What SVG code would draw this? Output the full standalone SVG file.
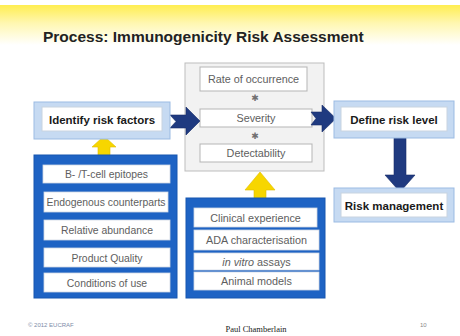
<svg xmlns="http://www.w3.org/2000/svg" width="460" height="336" viewBox="0 0 460 336">
  <defs>
    <linearGradient id="band" x1="0" y1="0" x2="0" y2="1">
      <stop offset="0" stop-color="#FFEE50"/>
      <stop offset="0.45" stop-color="#FFF7B0"/>
      <stop offset="1" stop-color="#FFFFFF"/>
    </linearGradient>
    <style>
      .frame { fill: #C6DAF2; stroke: #9BBBE3; stroke-width: 1; }
      .inner { fill: #FFFFFF; stroke: #C8D3E0; stroke-width: 1; }
      .bold { font-family: "Liberation Sans", Arial, sans-serif; font-weight: bold; font-size: 11.5px; fill: #1A1A1A; text-anchor: middle; }
      .panel { fill: #1E63C4; stroke: #1656B0; stroke-width: 1; }
      .item { fill: #FFFFFF; stroke: #D0D8E4; stroke-width: 0.8; }
      .lbl { font-family: "Liberation Sans", Arial, sans-serif; font-size: 10.4px; fill: #5E5E5E; text-anchor: middle; }
      .mid { font-family: "Liberation Sans", Arial, sans-serif; font-size: 10.8px; fill: #5E5E5E; text-anchor: middle; }
      .gbox { fill: #FFFFFF; stroke: #B5B5B5; stroke-width: 1; }
      .star { font-family: "DejaVu Sans", sans-serif; font-size: 9px; fill: #707070; text-anchor: middle; }
      .navy { fill: #1F3A80; stroke: #172E68; stroke-width: 0.6; }
      .yellow { fill: #F7D600; stroke: #E0BD00; stroke-width: 0.6; }
    </style>
  </defs>

  <!-- page background and header band -->
  <rect x="0" y="0" width="460" height="336" fill="#FFFFFF"/>
  <rect x="0" y="5" width="460" height="40" fill="url(#band)"/>
  <text x="43" y="42" font-family="Liberation Sans, Arial, sans-serif" font-weight="bold" font-size="15.5px" fill="#222222">Process: Immunogenicity Risk Assessment</text>

  <!-- central assessment box -->
  <g id="assessment">
    <rect x="185" y="63" width="139" height="108" fill="#F2F2F2" stroke="#BDBDBD" stroke-width="1"/>
    <rect class="gbox" x="200" y="67" width="107" height="24"/>
    <text class="mid" x="253.5" y="83">Rate of occurrence</text>
    <text class="star" x="255" y="101">✱</text>
    <rect class="gbox" x="200" y="109" width="112" height="18"/>
    <text class="mid" x="256" y="122" font-size="11.3px">Severity</text>
    <text class="star" x="255" y="139">✱</text>
    <rect class="gbox" x="200" y="144" width="112" height="18"/>
    <text class="mid" x="256" y="157">Detectability</text>
  </g>

  <!-- connectors -->
  <g id="connectors">
    <!-- risk factors to severity -->
    <path class="navy" d="M170,115 L186,115 L186,107 L200,121 L186,135 L186,128 L170,128 L176,121.5 Z"/>
    <!-- severity to risk level -->
    <path class="navy" d="M311,112 L322,112 L322,105 L336,118.5 L322,132 L322,125 L311,125 L316,118.5 Z"/>
    <!-- risk level to risk management -->
    <path class="navy" d="M394,138 L406,138 L406,175 L415,175 L400,192 L385,175 L394,175 Z"/>
    <!-- factor list to risk factors -->
    <path class="yellow" d="M98,160 L98,147 L92,147 L104,136 L116,147 L110,147 L110,160 Z"/>
    <!-- evidence list to assessment -->
    <path class="yellow" d="M254,205 L254,190 L245,190 L260,172 L275,190 L266,190 L266,205 Z"/>
  </g>

  <!-- identify risk factors -->
  <g id="identify">
    <rect class="frame" x="34" y="102" width="136" height="37"/>
    <rect class="inner" x="42" y="107" width="120" height="24"/>
    <text class="bold" x="102" y="123.5">Identify risk factors</text>
  </g>

  <!-- define risk level -->
  <g id="define">
    <rect class="frame" x="334" y="101" width="120" height="37"/>
    <rect class="inner" x="341" y="107" width="106" height="24"/>
    <text class="bold" x="394" y="123.5">Define risk level</text>
  </g>

  <!-- risk management -->
  <g id="management">
    <rect class="frame" x="334" y="188" width="120" height="34"/>
    <rect class="inner" x="341" y="193" width="106" height="24"/>
    <text class="bold" x="394" y="209.5">Risk management</text>
  </g>

  <!-- risk factor list -->
  <g id="factors">
    <rect class="panel" x="34" y="155" width="143" height="143"/>
    <rect class="item" x="43" y="165" width="127" height="18"/>
    <text class="lbl" x="106.5" y="178">B- /T-cell epitopes</text>
    <rect class="item" x="44" y="192" width="124" height="20"/>
    <text class="lbl" x="106" y="206">Endogenous counterparts</text>
    <rect class="item" x="44" y="220" width="126" height="20"/>
    <text class="lbl" x="107" y="234">Relative abundance</text>
    <rect class="item" x="44" y="248" width="126" height="19"/>
    <text class="lbl" x="107" y="261.5">Product Quality</text>
    <rect class="item" x="44" y="273" width="126" height="19"/>
    <text class="lbl" x="107" y="286.5">Conditions of use</text>
  </g>

  <!-- evidence list -->
  <g id="evidence">
    <rect class="panel" x="186" y="198" width="139" height="100"/>
    <rect class="item" x="194" y="208" width="123" height="19"/>
    <text class="mid" x="255.5" y="221.5">Clinical experience</text>
    <rect class="item" x="194" y="230" width="125" height="20"/>
    <text class="mid" x="256.5" y="244">ADA characterisation</text>
    <rect class="item" x="194" y="253" width="125" height="17"/>
    <text class="mid" x="256.5" y="265.5"><tspan font-style="italic">in vitro</tspan> assays</text>
    <rect class="item" x="194" y="272" width="125" height="18"/>
    <text class="mid" x="256.5" y="285">Animal models</text>
  </g>

  <!-- footer -->
  <text x="28" y="327" font-family="Liberation Sans, Arial, sans-serif" font-size="6px" fill="#7D8BA8">© 2012 EUCRAF</text>
  <text x="256" y="332" font-family="Liberation Serif, Times New Roman, serif" font-size="8.5px" fill="#222222" text-anchor="middle">Paul Chamberlain</text>
  <text x="420" y="327" font-family="Liberation Sans, Arial, sans-serif" font-size="6px" fill="#888888">10</text>
</svg>
